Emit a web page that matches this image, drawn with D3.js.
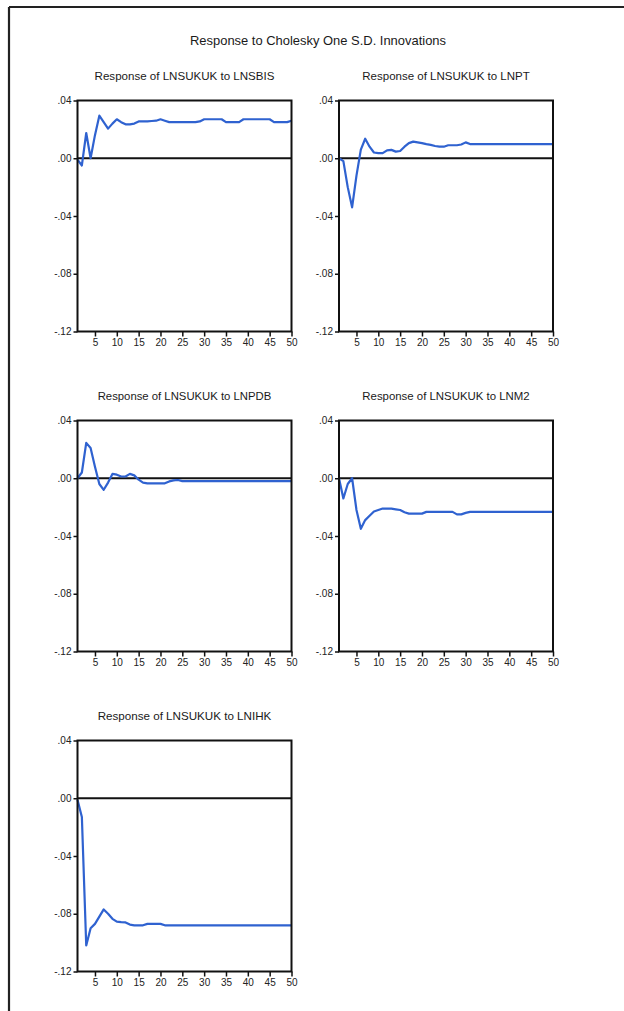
<!DOCTYPE html>
<html>
<head>
<meta charset="utf-8">
<script src="https://cdn.jsdelivr.net/npm/d3@7"></script>
<style>
  body { margin: 0; background: #fff; }
  text { font-family: "Liberation Sans Narrow", "Liberation Sans", Arial, sans-serif; fill: #1a1a1a; }
</style>
</head>
<body>
<div id="chart"></div>
<script>
var mainTitle = "Response to Cholesky One S.D. Innovations";
var panelTitles = [
  "Response of LNSUKUK to LNSBIS",
  "Response of LNSUKUK to LNPT",
  "Response of LNSUKUK to LNPDB",
  "Response of LNSUKUK to LNM2",
  "Response of LNSUKUK to LNIHK"
];
var yTicks = [0.04, 0.00, -0.04, -0.08, -0.12];
var yTickLabels = [".04", ".00", "-.04", "-.08", "-.12"];
var xTicks = [5, 10, 15, 20, 25, 30, 35, 40, 45, 50];

// impulse responses, periods 1..50
var respSBIS = [-0.001, -0.005, 0.0175, 0.000, 0.016, 0.0295, 0.025, 0.0205, 0.024, 0.027,
  0.025, 0.0235, 0.0235, 0.024, 0.0255, 0.0255, 0.0255, 0.0258, 0.026, 0.027,
  0.026, 0.025, 0.025, 0.025, 0.025, 0.025, 0.025, 0.025, 0.0255, 0.027,
  0.027, 0.027, 0.027, 0.027, 0.025, 0.025, 0.025, 0.025, 0.027, 0.027,
  0.027, 0.027, 0.027, 0.027, 0.027, 0.025, 0.025, 0.025, 0.025, 0.026];
var respPT = [0.000, -0.002, -0.020, -0.034, -0.012, 0.006, 0.0135, 0.008, 0.004, 0.0035,
  0.0035, 0.0055, 0.0058, 0.0046, 0.005, 0.008, 0.0105, 0.0115, 0.011, 0.0105,
  0.0098, 0.0093, 0.0085, 0.008, 0.008, 0.009, 0.009, 0.009, 0.0095, 0.011,
  0.0098, 0.0098, 0.0098, 0.0098, 0.0098, 0.0098, 0.0098, 0.0098, 0.0098, 0.0098,
  0.0098, 0.0098, 0.0098, 0.0098, 0.0098, 0.0098, 0.0098, 0.0098, 0.0098, 0.0098];
var respPDB = [0.000, 0.004, 0.0245, 0.021, 0.008, -0.004, -0.008, -0.003, 0.003, 0.0025,
  0.0012, 0.0012, 0.003, 0.002, -0.001, -0.003, -0.0035, -0.0035, -0.0035, -0.0035,
  -0.0035, -0.0022, -0.0015, -0.0012, -0.002, -0.002, -0.002, -0.002, -0.002, -0.002,
  -0.002, -0.002, -0.002, -0.002, -0.002, -0.002, -0.002, -0.002, -0.002, -0.002,
  -0.002, -0.002, -0.002, -0.002, -0.002, -0.002, -0.002, -0.002, -0.002, -0.002];
var respM2 = [0.000, -0.014, -0.004, 0.000, -0.022, -0.035, -0.029, -0.026, -0.023, -0.022,
  -0.021, -0.021, -0.021, -0.0215, -0.022, -0.0235, -0.0245, -0.0245, -0.0245, -0.0245,
  -0.0233, -0.0233, -0.0233, -0.0233, -0.0233, -0.0233, -0.0233, -0.025, -0.025, -0.024,
  -0.0233, -0.0233, -0.0233, -0.0233, -0.0233, -0.0233, -0.0233, -0.0233, -0.0233, -0.0233,
  -0.0233, -0.0233, -0.0233, -0.0233, -0.0233, -0.0233, -0.0233, -0.0233, -0.0233, -0.0233];
var respIHK = [-0.001, -0.013, -0.102, -0.090, -0.087, -0.082, -0.077, -0.080, -0.0835, -0.0855,
  -0.0858, -0.086, -0.0875, -0.088, -0.088, -0.088, -0.087, -0.087, -0.087, -0.087,
  -0.088, -0.088, -0.088, -0.088, -0.088, -0.088, -0.088, -0.088, -0.088, -0.088,
  -0.088, -0.088, -0.088, -0.088, -0.088, -0.088, -0.088, -0.088, -0.088, -0.088,
  -0.088, -0.088, -0.088, -0.088, -0.088, -0.088, -0.088, -0.088, -0.088, -0.088];

var series = [respSBIS, respPT, respPDB, respM2, respIHK];

var W = 624, H = 1011;
var pw = 214, ph = 231;
var colX = [77.5, 339], rowY = [100.5, 420.5, 740.5];

var svg = d3.select('#chart').append('svg')
  .attr('width', W).attr('height', H);

// frame (top + left only, as cropped in the source)
svg.append('line').attr('x1', 9).attr('y1', 7).attr('x2', W).attr('y2', 7)
  .style('stroke', '#222').style('stroke-width', 2.2);
svg.append('line').attr('x1', 9).attr('y1', 7).attr('x2', 9).attr('y2', H)
  .style('stroke', '#222').style('stroke-width', 2.2);

svg.append('text')
  .attr('x', 318).attr('y', 45)
  .attr('text-anchor', 'middle')
  .style('font-size', '13px')
  .attr('textLength', 256).attr('lengthAdjust', 'spacingAndGlyphs')
  .text(mainTitle);

var x = d3.scaleLinear().domain([1, 50]).range([0, pw]);
var y = d3.scaleLinear().domain([-0.12, 0.04]).range([ph, 0]);

var line = d3.line()
  .x(function(d, i) { return x(i + 1); })
  .y(function(d) { return y(d); });

series.forEach(function(vals, k) {
  var g = svg.append('g')
    .attr('transform', 'translate(' + colX[k % 2] + ',' + rowY[Math.floor(k / 2)] + ')');

  g.append('text')
    .attr('x', pw / 2).attr('y', -21)
    .attr('text-anchor', 'middle')
    .style('font-size', '11.5px')
    .attr('textLength', panelTitles[k].length * 6.2)
    .attr('lengthAdjust', 'spacingAndGlyphs')
    .text(panelTitles[k]);

  // y axis
  var yAxis = d3.axisLeft(y).tickValues(yTicks).tickSize(4).tickPadding(2)
    .tickFormat(function(d, i) { return yTickLabels[i]; });
  var ya = g.append('g').call(yAxis);
  ya.select('.domain').remove();
  ya.selectAll('line').style('stroke', '#111').style('stroke-width', 1.5);
  ya.selectAll('text').style('font-size', '10px').style('fill', '#222');

  // x axis
  var xAxis = d3.axisBottom(x).tickValues(xTicks).tickSize(5).tickPadding(2);
  var xa = g.append('g').attr('transform', 'translate(0,' + ph + ')').call(xAxis);
  xa.select('.domain').remove();
  xa.selectAll('line').style('stroke', '#111').style('stroke-width', 1.5);
  xa.selectAll('text').style('font-size', '10px').style('fill', '#222');

  // zero line
  g.append('line')
    .attr('x1', 0).attr('x2', pw).attr('y1', y(0)).attr('y2', y(0))
    .style('stroke', '#111').style('stroke-width', 1.8);

  g.append('path')
    .datum(vals)
    .attr('d', line)
    .style('fill', 'none')
    .style('stroke', '#2f62d0')
    .style('stroke-width', 2.2)
    .style('stroke-linejoin', 'round');

  // plot box
  g.append('rect')
    .attr('width', pw).attr('height', ph)
    .style('fill', 'none').style('stroke', '#111').style('stroke-width', 2);
});
</script>
</body>
</html>
